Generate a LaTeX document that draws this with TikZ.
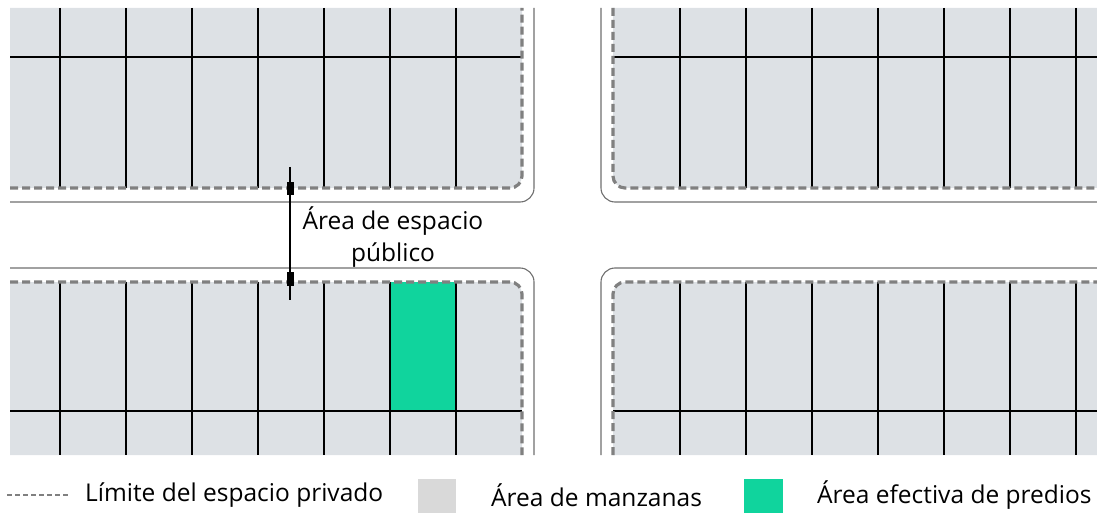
\documentclass[tikz,border=0pt]{standalone}
\usepackage{fontspec}
\setmainfont{Open Sans}
\definecolor{blockfill}{RGB}{221,225,229}
\definecolor{legendgray}{RGB}{217,217,217}
\definecolor{predio}{RGB}{16,212,157}
\definecolor{dashgray}{RGB}{128,128,128}
\definecolor{outline}{RGB}{110,110,110}
\tikzset{
  limite/.style={draw=dashgray, line width=3.2pt, dash pattern=on 8pt off 4pt},
  gridline/.style={draw=black, line width=1.6pt},
  outer/.style={draw=outline, line width=1.1pt},
  label/.style={font=\fontsize{24.5}{32}\selectfont, text=black, inner sep=0pt},
}
\begin{document}
\begin{tikzpicture}[x=1pt, y=-1pt]
\useasboundingbox (0,0) rectangle (1097,513);
\clip (0,0) rectangle (1097,513);
% ---------- top-left block ----------
\fill[blockfill] (10,8) -- (522,8) -- (522,176) .. controls (522,182.6) and (516.6,188) .. (510,188) -- (10,188) -- cycle;
\foreach \x in {60,126,192,258,324,390,456} \draw[gridline] (\x,8) -- (\x,188);
\draw[gridline] (10,57) -- (522,57);
\draw[limite] (10,188) -- (510,188) .. controls (516.6,188) and (522,182.6) .. (522,176) -- (522,8);
\draw[outer] (10,202) -- (520,202) .. controls (527.7,202) and (534,195.7) .. (534,188) -- (534,8);
% ---------- top-right block ----------
\fill[blockfill] (613,8) -- (1097,8) -- (1097,188) -- (625,188) .. controls (618.4,188) and (613,182.6) .. (613,176) -- cycle;
\foreach \x in {680,746,812,878,944,1010,1076} \draw[gridline] (\x,8) -- (\x,188);
\draw[gridline] (613,57) -- (1097,57);
\draw[limite] (613,8) -- (613,176) .. controls (613,182.6) and (618.4,188) .. (625,188) -- (1097,188);
\draw[outer] (601,8) -- (601,188) .. controls (601,195.7) and (607.3,202) .. (615,202) -- (1097,202);
% ---------- bottom-left block ----------
\fill[blockfill] (10,282) -- (510,282) .. controls (516.6,282) and (522,287.4) .. (522,294) -- (522,455) -- (10,455) -- cycle;
\fill[predio] (390,282) rectangle (456,411);
\foreach \x in {60,126,192,258,324,390,456} \draw[gridline] (\x,282) -- (\x,455);
\draw[gridline] (10,411) -- (522,411);
\draw[limite] (10,282) -- (510,282) .. controls (516.6,282) and (522,287.4) .. (522,294) -- (522,455);
\draw[outer] (10,268) -- (520,268) .. controls (527.7,268) and (534,274.3) .. (534,282) -- (534,455);
% ---------- bottom-right block ----------
\fill[blockfill] (625,282) -- (1097,282) -- (1097,455) -- (613,455) -- (613,294) .. controls (613,287.4) and (618.4,282) .. (625,282) -- cycle;
\foreach \x in {680,746,812,878,944,1010,1076} \draw[gridline] (\x,282) -- (\x,455);
\draw[gridline] (613,411) -- (1097,411);
\draw[limite] (613,455) -- (613,294) .. controls (613,287.4) and (618.4,282) .. (625,282) -- (1097,282);
\draw[outer] (601,455) -- (601,282) .. controls (601,274.3) and (607.3,268) .. (615,268) -- (1097,268);
% ---------- dimension ----------
\coordinate (dimtop) at (290,167);
\coordinate (dimbot) at (290,300);
\draw[black, line width=1.2pt] (dimtop) -- (dimbot);
\fill[black] (286.5,182) rectangle (293.5,195);
\fill[black] (286.5,272) rectangle (293.5,286);
\node[label, align=center] (pub) at (393,237) {Área de espacio\\público};
% ---------- legend ----------
\coordinate (lgA) at (7,495);
\coordinate (lgB) at (70,495);
\draw[draw=dashgray, line width=2pt, dash pattern=on 5pt off 3pt] (lgA) -- (lgB);
\node[label, anchor=west] (lg1) at (85,495) {Límite del espacio privado};
\fill[legendgray] (418,479) rectangle (456,517);
\node[label, anchor=west] (lg2) at (491,495) {Área de manzanas};
\fill[predio] (744,479) rectangle (783,517);
\node[label, anchor=west] (lg3) at (817,495) {Área efectiva de predios};
\end{tikzpicture}
\end{document}
